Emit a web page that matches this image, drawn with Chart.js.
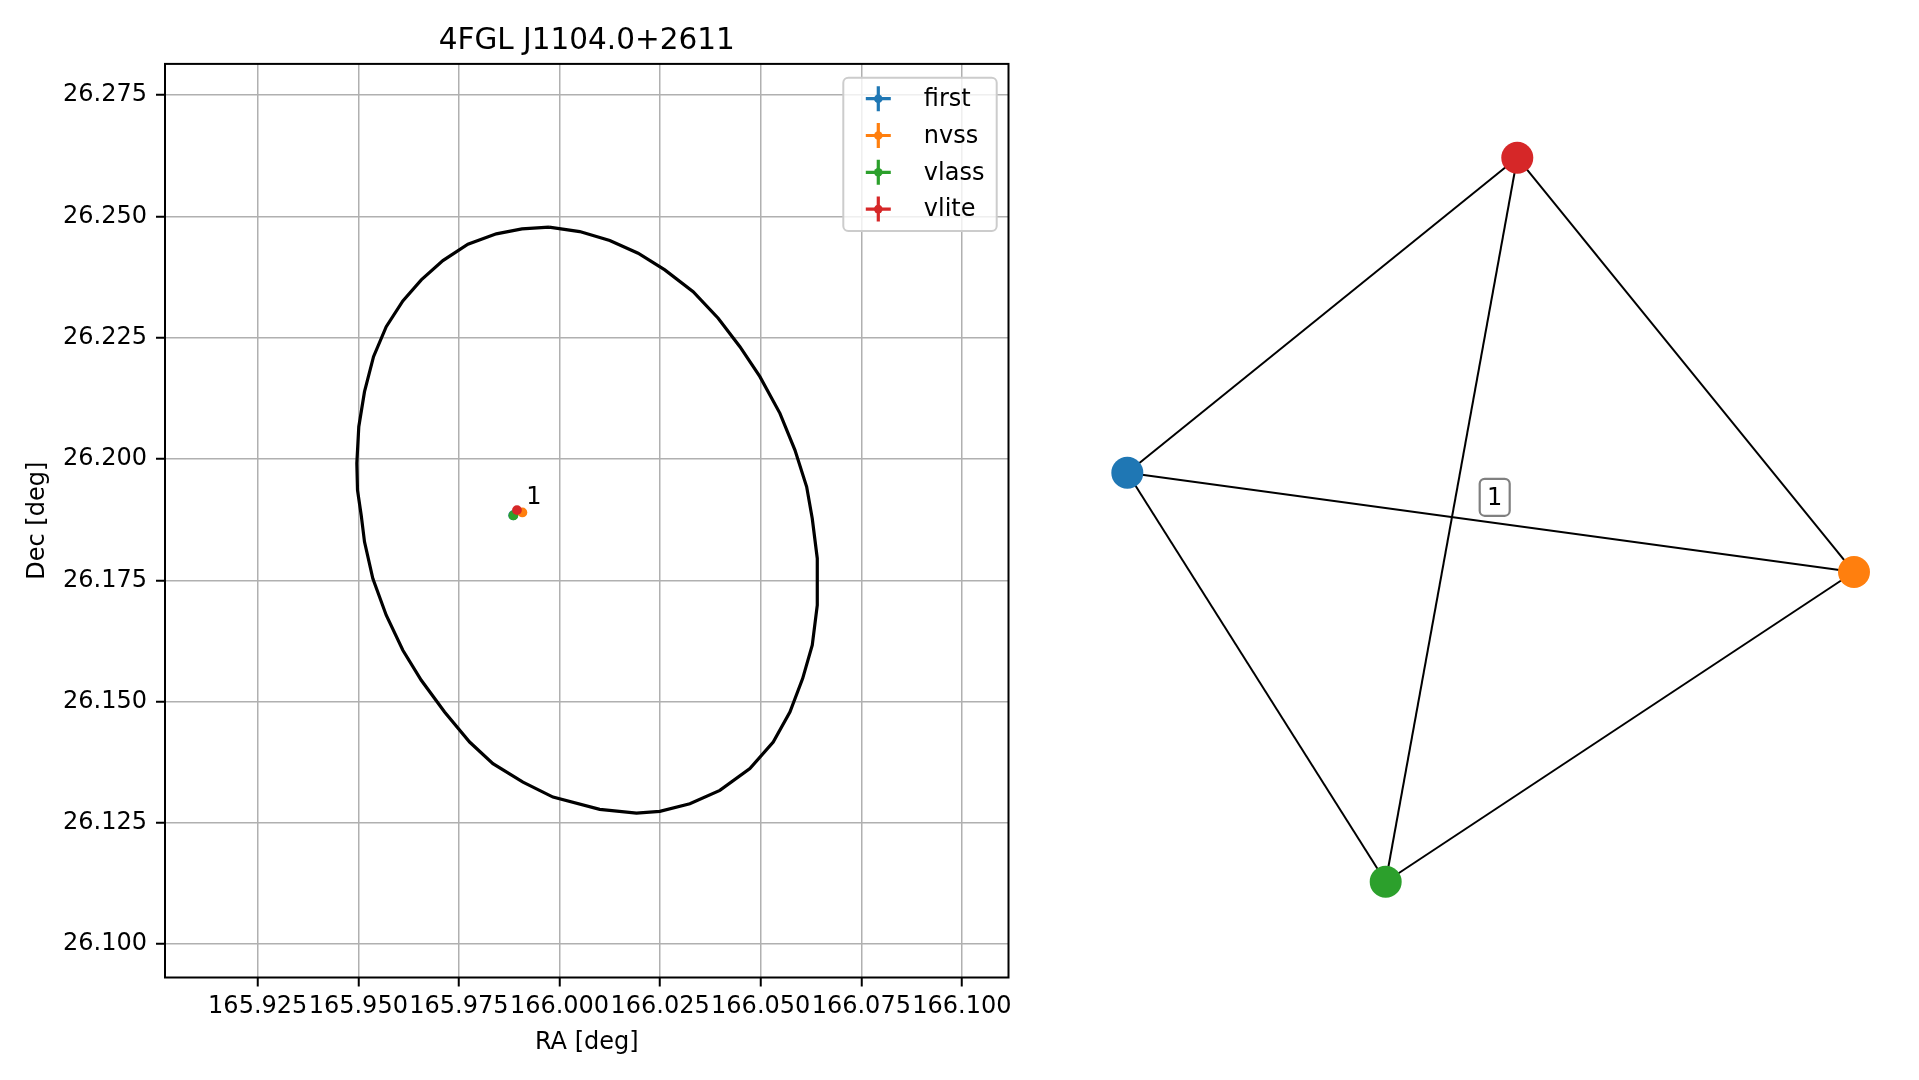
<!DOCTYPE html>
<html><head><meta charset="utf-8">
<script src="https://cdn.jsdelivr.net/npm/chart.js@4.4.1/dist/chart.umd.min.js"></script>
<style>
html,body{margin:0;padding:0;background:#fff;overflow:hidden;width:1919px;height:1080px;}
#c1{position:absolute;left:0;top:0;}
#c2{position:absolute;left:1050px;top:0;}
</style></head><body>
<canvas id="c1" width="1050" height="1080"></canvas>
<canvas id="c2" width="869" height="1080"></canvas>
<script>
// ---------------- data ----------------
const chartTitle = '4FGL J1104.0+2611';
const xAxisLabel = 'RA [deg]';
const yAxisLabel = 'Dec [deg]';
const xTickValues = [165.925, 165.950, 165.975, 166.000, 166.025, 166.050, 166.075, 166.100];
const yTickValues = [26.100, 26.125, 26.150, 26.175, 26.200, 26.225, 26.250, 26.275];
const xRange = [165.90196, 166.11158];
const yRange = [26.09313, 26.28146];

const surveyNames  = ['first', 'nvss', 'vlass', 'vlite'];
const surveyColors = ['#1f77b4', '#ff7f0e', '#2ca02c', '#d62728'];
const sourceRA  = [165.98850, 165.99077, 165.98853, 165.98943];
const sourceDec = [26.18842, 26.18900, 26.18838, 26.18948];

const ellipseRA = [165.99739,166.00502,166.01249,166.01953,166.02617,166.03321,166.03943,166.04483,
  166.04980,166.05478,166.05851,166.06142,166.06281,166.06406,166.06406,166.06281,166.06042,166.05726,
  166.05311,166.04731,166.03985,166.03239,166.02493,166.01913,166.01000,165.99838,165.99092,165.98346,
  165.97766,165.97144,165.96565,165.96107,165.95694,165.95361,165.95154,165.95072,165.94980,165.94963,
  165.95012,165.95154,165.95378,165.95694,165.96107,165.96565,165.97102,165.97724,165.98430,165.99067];
const ellipseDec = [26.24781,26.24690,26.24504,26.24244,26.23900,26.23452,26.22903,26.22317,
  26.21698,26.20943,26.20186,26.19428,26.18776,26.17951,26.16987,26.16162,26.15475,26.14786,
  26.14167,26.13618,26.13170,26.12896,26.12737,26.12702,26.12778,26.13032,26.13341,26.13721,
  26.14167,26.14786,26.15440,26.16059,26.16781,26.17538,26.18294,26.18844,26.19360,26.19911,
  26.20666,26.21389,26.22111,26.22730,26.23260,26.23693,26.24092,26.24430,26.24643,26.24746];

const groupLabelRA = [165.99171];
const groupLabelDec = [26.19071];
const groupLabelText = ['1'];

// network graph (nodes in survey order: first, nvss, vlass, vlite)
const nodeX = [-0.9468, 1.0551, -0.2350, 0.1275];
const nodeY = [0.1331, -0.1405, -0.9937, 1.0008];
const edgeFrom = [0, 0, 0, 1, 1, 2];
const edgeTo   = [1, 2, 3, 2, 3, 3];
const edgeLabelX = [0.0653];
const edgeLabelY = [0.0653];
const edgeLabelText = ['1'];
const graphXRange = [-1.1598, 1.2342];
const graphYRange = [-1.5399, 1.4353];

// ---------------- styling ----------------
const FONT = 'DejaVu Sans';
Chart.defaults.font.family = FONT;
Chart.defaults.color = '#000';

function roundRectPath(ctx, x, y, w, h, r) {
  ctx.beginPath();
  ctx.moveTo(x + r, y);
  ctx.lineTo(x + w - r, y);
  ctx.arcTo(x + w, y, x + w, y + r, r);
  ctx.lineTo(x + w, y + h - r);
  ctx.arcTo(x + w, y + h, x + w - r, y + h, r);
  ctx.lineTo(x + r, y + h);
  ctx.arcTo(x, y + h, x, y + h - r, r);
  ctx.lineTo(x, y + r);
  ctx.arcTo(x, y, x + r, y, r);
  ctx.closePath();
}

const framePlugin = {
  id: 'frame',
  afterDatasetsDraw(chart) {
    const {ctx, chartArea: a, scales} = chart;
    ctx.save();
    // annotation text
    ctx.font = '24px "' + FONT + '"';
    ctx.fillStyle = '#000';
    ctx.textAlign = 'left';
    ctx.textBaseline = 'alphabetic';
    groupLabelText.forEach((t, i) => {
      ctx.fillText(t, scales.x.getPixelForValue(groupLabelRA[i]), scales.y.getPixelForValue(groupLabelDec[i]));
    });
    // frame
    ctx.strokeStyle = '#000';
    ctx.lineWidth = 2;
    ctx.strokeRect(a.left, a.top, a.right - a.left, a.bottom - a.top);
    // legend
    const bx = a.right - 165.2, by = a.top + 13.8, bw = 153.4, bh = 153.4;
    roundRectPath(ctx, bx, by, bw, bh, 5);
    ctx.fillStyle = 'rgba(255,255,255,0.8)';
    ctx.fill();
    ctx.strokeStyle = '#cccccc';
    ctx.lineWidth = 2;
    ctx.stroke();
    ctx.font = '24px "' + FONT + '"';
    ctx.textBaseline = 'middle';
    surveyNames.forEach((name, i) => {
      const cy = by + 21 + i * 36.8;
      const cx = bx + 35;
      ctx.strokeStyle = surveyColors[i];
      ctx.lineWidth = 3.2;
      ctx.beginPath();
      ctx.moveTo(cx - 12.5, cy); ctx.lineTo(cx + 12.5, cy);
      ctx.moveTo(cx, cy - 12.5); ctx.lineTo(cx, cy + 12.5);
      ctx.stroke();
      ctx.fillStyle = surveyColors[i];
      ctx.beginPath(); ctx.arc(cx, cy, 4.3, 0, Math.PI * 2); ctx.fill();
      ctx.fillStyle = '#000';
      ctx.fillText(name, bx + 80.5, cy + 1);
    });
    ctx.restore();
  }
};

const ellipseData = ellipseRA.map((x, i) => ({x, y: ellipseDec[i]}));
ellipseData.push(ellipseData[0]);

const leftDatasets = [{
  type: 'scatter', label: 'ellipse', data: ellipseData, showLine: true,
  borderColor: '#000', borderWidth: 3.2, pointRadius: 0, fill: false, tension: 0, order: 10
}];
surveyNames.forEach((name, i) => {
  leftDatasets.push({
    type: 'scatter', label: name, data: [{x: sourceRA[i], y: sourceDec[i]}],
    backgroundColor: surveyColors[i], borderWidth: 0, pointRadius: 4.9, order: 5 - i
  });
});

new Chart(document.getElementById('c1'), {
  type: 'scatter',
  data: {datasets: leftDatasets},
  options: {
    responsive: false, animation: false, devicePixelRatio: 1, events: [],
    layout: {autoPadding: false, padding: {left: 0, right: 41.5, top: 0, bottom: 0}},
    plugins: {
      legend: {display: false}, tooltip: {enabled: false},
      title: {display: true, text: chartTitle, fullSize: false,
        font: {size: 29.5, weight: 'normal', family: FONT}, color: '#000',
        padding: {top: 23.5, bottom: 5}}
    },
    scales: {
      x: {
        type: 'linear', min: xRange[0], max: xRange[1],
        afterBuildTicks: s => { s.ticks = xTickValues.map(v => ({value: v})); },
        afterFit: s => { s.height = 102.5; },
        ticks: {autoSkip: false, maxRotation: 0, minRotation: 0, padding: 5.4,
          font: {size: 24}, color: '#000', callback: v => Number(v).toFixed(3)},
        grid: {color: '#b0b0b0', lineWidth: 1.5, drawTicks: true, tickLength: 9, tickColor: '#000', tickWidth: 2},
        border: {display: false},
        title: {display: true, text: xAxisLabel, font: {size: 24}, color: '#000', padding: {top: 0, bottom: 23}}
      },
      y: {
        type: 'linear', min: yRange[0], max: yRange[1],
        afterBuildTicks: s => { s.ticks = yTickValues.map(v => ({value: v})); },
        afterFit: s => { s.width = 165; },
        ticks: {autoSkip: false, padding: 9, font: {size: 24}, color: '#000',
          callback: v => Number(v).toFixed(3)},
        grid: {color: '#b0b0b0', lineWidth: 1.5, drawTicks: true, tickLength: 9, tickColor: '#000', tickWidth: 2},
        border: {display: false},
        title: {display: true, text: yAxisLabel, font: {size: 24}, color: '#000', padding: {top: 23.6, bottom: 0}}
      }
    }
  },
  plugins: [framePlugin]
});

// ---------------- right: graph ----------------
const edgeLabelPlugin = {
  id: 'edgeLabels',
  afterDatasetsDraw(chart) {
    const {ctx, scales} = chart;
    ctx.save();
    ctx.font = '24px "' + FONT + '"';
    edgeLabelText.forEach((t, i) => {
      const px = scales.x.getPixelForValue(edgeLabelX[i]);
      const py = scales.y.getPixelForValue(edgeLabelY[i]);
      const w = 30, h = 37;
      roundRectPath(ctx, px - w / 2, py - h / 2, w, h, 5);
      ctx.fillStyle = '#fff'; ctx.fill();
      ctx.strokeStyle = '#808080'; ctx.lineWidth = 2.2; ctx.stroke();
      ctx.fillStyle = '#000'; ctx.textAlign = 'center'; ctx.textBaseline = 'middle';
      ctx.fillText(t, px, py + 1);
    });
    ctx.restore();
  }
};

const graphDatasets = [];
edgeFrom.forEach((a, k) => {
  const b = edgeTo[k];
  graphDatasets.push({
    type: 'scatter', label: 'edge' + k, showLine: true,
    data: [{x: nodeX[a], y: nodeY[a]}, {x: nodeX[b], y: nodeY[b]}],
    borderColor: '#000', borderWidth: 2, pointRadius: 0, tension: 0, order: 2
  });
});
graphDatasets.push({
  type: 'scatter', label: 'nodes',
  data: nodeX.map((x, i) => ({x, y: nodeY[i]})),
  backgroundColor: surveyColors, pointBackgroundColor: surveyColors,
  borderWidth: 0, pointRadius: 16, order: 1
});

new Chart(document.getElementById('c2'), {
  type: 'scatter',
  data: {datasets: graphDatasets},
  options: {
    responsive: false, animation: false, devicePixelRatio: 1, events: [],
    layout: {autoPadding: false, padding: 0},
    plugins: {legend: {display: false}, tooltip: {enabled: false}},
    scales: {
      x: {type: 'linear', display: false, min: graphXRange[0], max: graphXRange[1]},
      y: {type: 'linear', display: false, min: graphYRange[0], max: graphYRange[1]}
    }
  },
  plugins: [edgeLabelPlugin]
});
</script>
</body></html>
